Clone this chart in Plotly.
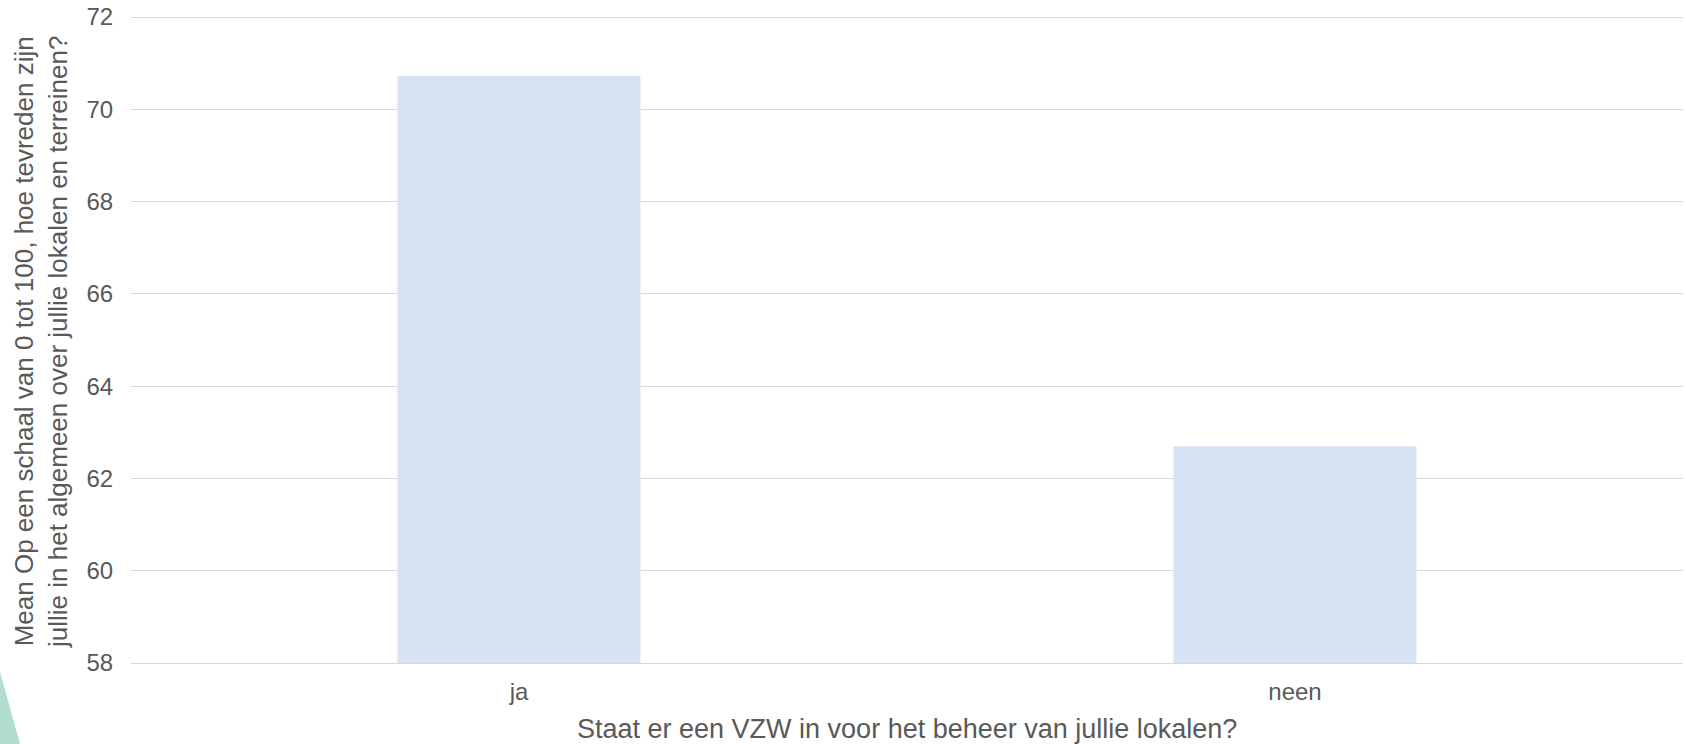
import plotly.graph_objects as go

# Data
categories = ["ja", "neen"]
means = [70.72, 62.70]
y_ticks = [58, 60, 62, 64, 66, 68, 70, 72]

x_title = "Staat er een VZW in voor het beheer van jullie lokalen?"
y_title = ("Mean Op een schaal van 0 tot 100, hoe tevreden zijn<br>"
           "jullie in het algemeen over jullie lokalen en terreinen?")

W, H = 1686, 744
ml, mr, mt, mb = 131, 3, 12, 81
pw, ph = W - ml - mr, H - mt - mb
# top of the range sits a few px above 72 so its gridline is not clipped
y_top = 72 + 5 / (646 / 14)

fig = go.Figure()
fig.add_trace(go.Bar(
    x=categories,
    y=means,
    marker=dict(color="#d7e2f3", line=dict(width=0)),
    hovertemplate="%{x}: %{y}<extra></extra>",
))


def px_to_paper(px, py):
    return (px - ml) / pw, (H - mb - py) / ph


# decorative teal triangle in the lower left corner
p1 = px_to_paper(0, 672)
p2 = px_to_paper(20, 744)
p3 = px_to_paper(0, 744)
fig.add_shape(
    type="path", xref="paper", yref="paper",
    path=f"M {p1[0]} {p1[1]} L {p2[0]} {p2[1]} L {p3[0]} {p3[1]} Z",
    fillcolor="#b3ddd0", line=dict(width=0), layer="below",
)

# axis titles as annotations so they sit exactly where the reference has them
tx, ty = px_to_paper(907, 729)
fig.add_annotation(text=x_title, xref="paper", yref="paper", x=tx, y=ty,
                   xanchor="center", yanchor="middle", showarrow=False,
                   font=dict(size=27))
yx, yy = px_to_paper(41, 342)
fig.add_annotation(text=y_title, xref="paper", yref="paper", x=yx, y=yy,
                   xanchor="center", yanchor="middle", showarrow=False,
                   textangle=-90, font=dict(size=26))

fig.update_layout(
    width=W, height=H,
    margin=dict(l=ml, r=mr, t=mt, b=mb),
    paper_bgcolor="white", plot_bgcolor="white",
    font=dict(family="Arial, Liberation Sans", size=24, color="#595959"),
    bargap=0.687,
    showlegend=False,
    xaxis=dict(
        automargin=False,
        showgrid=False, showline=True, linecolor="#d9d9d9", linewidth=1,
        ticks="outside", ticklen=7, tickcolor="rgba(0,0,0,0)",
    ),
    yaxis=dict(
        automargin=False,
        range=[58, y_top], tickvals=y_ticks,
        showgrid=True, gridcolor="#d9d9d9", gridwidth=1, zeroline=False,
        ticks="outside", ticklen=12, tickcolor="rgba(0,0,0,0)",
    ),
)

# drop the default page margin so the figure fills the window exactly
fig.write_html("out.html", config={"displayModeBar": False},
               post_script="document.body.style.margin='0';")
